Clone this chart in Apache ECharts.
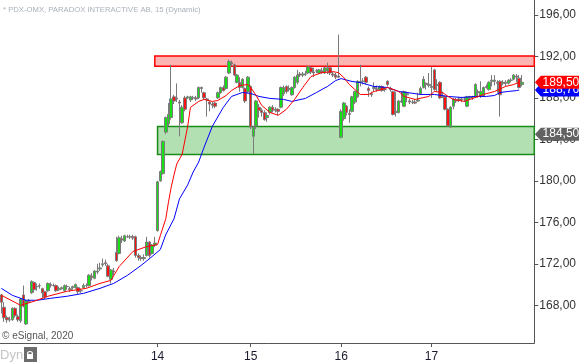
<!DOCTYPE html>
<html><head><meta charset="utf-8">
<script src="https://cdn.jsdelivr.net/npm/echarts@6/dist/echarts.min.js"></script>
<style>html,body{margin:0;padding:0;background:#fff}#c{width:579px;height:363px}</style>
</head><body><div id="c"></div>
<script>
const chartTitle = '* PDX-OMX, PARADOX INTERACTIVE AB, 15 (Dynamic)';
const dayLabels = ['14', '15', '16', '17'];
const dayStart = [57, 91, 124, 157];
const barCount = 195;
const yTicks = [168, 172, 176, 180, 184, 188, 192, 196];

const opens = [169.0,167.8,166.8,166.6,166.6,167.7,166.9,166.5,169.0,166.2,168.4,169.2,170.2,169.8,169.9,169.6,169.3,169.4,170.0,169.9,
169.9,169.5,169.6,169.4,169.8,169.6,169.7,169.7,169.7,169.4,169.7,169.9,169.9,170.8,170.6,171.2,171.5,171.9,172.1,171.8,
170.5,171.3,173.1,173.0,174.4,174.2,174.6,174.6,174.6,174.6,172.8,172.6,172.5,172.8,174.1,173.0,173.8,175.2,180.0,180.7,
184.7,185.5,186.1,188.1,188.0,187.6,185.6,188.0,188.0,187.8,188.0,188.0,188.0,189.0,188.5,187.9,187.6,187.4,187.5,188.0,
188.5,189.0,188.9,190.4,191.4,191.2,189.5,189.5,189.0,188.9,188.6,189.1,184.3,185.3,187.1,186.8,186.6,186.1,186.6,187.1,
186.8,186.9,187.1,188.4,189.1,188.8,188.3,189.0,189.5,190.3,190.2,190.3,190.4,190.9,190.5,190.6,190.4,190.6,190.4,190.6,
190.9,190.3,190.2,190.1,184.2,186.0,187.2,186.5,186.7,187.6,188.1,189.5,189.6,190.0,188.9,188.4,188.9,188.9,188.8,189.1,
188.8,189.6,188.9,188.6,186.6,186.6,187.6,187.2,188.3,187.7,187.6,187.6,187.7,188.4,189.0,189.4,189.2,189.0,190.7,189.2,
189.5,188.2,188.1,186.9,185.2,187.2,187.8,187.9,187.8,187.9,187.2,188.0,188.0,188.1,188.6,188.2,188.2,189.0,188.8,189.6,
189.6,189.5,189.6,189.4,189.5,189.4,189.7,189.8,190.1,189.9,189.3];
const closes = [168.3,166.8,166.6,166.6,167.7,167.0,166.6,168.6,167.9,168.4,168.4,170.3,169.5,169.8,169.9,169.2,168.8,170.1,169.9,169.9,
169.4,169.6,169.7,169.9,169.8,169.5,169.8,170.0,169.3,169.4,169.9,169.9,170.9,170.7,171.3,171.3,171.6,172.0,172.0,170.8,
171.4,171.2,172.3,174.5,174.3,174.7,174.6,174.6,174.5,172.8,172.6,172.5,172.6,174.1,172.8,173.8,174.0,179.9,180.9,183.8,
186.1,186.4,187.9,187.7,187.9,187.5,187.1,186.9,188.1,188.1,188.0,187.9,189.0,188.9,188.0,187.8,187.4,187.3,187.2,188.5,
189.0,188.7,190.0,191.5,191.3,190.2,190.2,189.0,189.8,187.7,190.0,185.2,185.2,187.7,186.8,186.6,185.9,186.3,187.1,186.8,
186.9,186.7,189.0,189.0,188.6,188.9,189.0,190.0,190.2,190.2,190.3,190.3,191.0,190.5,190.4,190.6,190.7,190.5,190.9,190.9,
190.4,190.2,190.0,190.0,186.7,187.5,186.6,186.4,188.1,188.6,189.6,189.6,189.6,189.5,188.7,188.3,189.0,188.8,189.1,188.7,
188.8,189.3,188.8,186.4,186.7,187.7,187.7,188.6,188.4,187.6,187.6,187.5,187.8,188.9,189.8,189.3,189.3,189.1,188.8,189.3,
188.0,188.1,186.9,185.3,187.1,187.9,187.7,187.8,187.9,187.9,188.1,188.1,188.0,189.3,188.5,188.6,189.0,189.1,189.5,189.7,
189.7,189.4,188.3,189.5,189.4,189.7,189.7,190.2,190.0,189.0,189.5];
const lows = [167.2,166.4,166.3,166.4,166.5,166.8,166.4,166.3,167.8,166.1,168.2,169.1,169.2,169.4,169.6,168.7,168.6,169.3,169.7,169.8,
169.3,169.4,169.5,169.3,169.5,169.3,169.5,169.6,169.1,169.2,169.6,169.7,169.8,170.4,170.5,171.0,171.3,171.7,171.8,170.7,
170.1,170.9,172.2,172.9,174.0,174.1,174.5,174.4,174.3,172.6,172.3,172.3,172.3,172.7,172.6,172.9,173.6,175.1,179.9,180.6,
184.5,185.3,185.9,187.4,187.6,184.3,185.5,186.7,187.9,187.6,187.8,187.7,187.9,188.5,187.8,186.2,186.7,187.0,187.0,187.9,
188.4,188.6,188.8,190.3,191.1,190.1,189.4,188.6,188.9,187.5,188.5,185.0,182.6,185.0,186.1,186.2,185.8,185.7,186.4,186.6,
186.6,186.3,187.0,188.2,188.4,188.6,188.2,188.9,189.3,190.0,190.0,190.1,190.3,190.3,190.0,190.4,190.3,190.3,190.3,190.3,
190.2,190.0,189.8,189.9,184.1,185.8,186.3,185.6,186.6,187.4,188.0,189.1,189.3,189.3,188.1,188.1,188.6,188.6,188.7,188.6,
188.6,189.1,188.6,186.3,186.2,186.5,187.5,187.1,187.6,187.4,187.4,187.4,187.6,188.3,188.9,188.8,189.0,188.0,188.7,188.6,
187.9,188.0,186.8,185.2,185.1,186.9,187.5,187.6,187.6,187.6,187.1,187.8,187.8,188.0,188.0,188.0,188.1,188.9,188.7,189.1,
189.2,188.5,186.2,189.2,189.1,189.3,189.5,189.7,189.5,188.9,189.1];
const highs = [169.1,168.3,167.0,166.9,167.8,167.8,167.1,168.7,169.9,168.5,168.6,170.4,170.3,170.1,170.1,169.7,169.4,170.2,170.2,170.1,
170.0,169.8,169.8,170.0,170.0,169.8,169.9,170.1,169.8,169.6,170.1,170.1,171.0,171.1,171.4,172.0,172.1,172.5,172.4,172.0,
171.5,171.6,174.6,174.7,174.7,174.8,174.8,174.8,174.8,174.7,173.0,172.8,172.9,174.6,174.2,173.9,174.6,180.0,181.0,183.9,
186.2,187.5,191.2,188.3,189.4,187.8,187.3,188.2,188.2,188.2,188.2,188.2,189.1,189.1,188.6,188.0,187.7,187.6,187.6,188.6,
189.1,189.2,190.1,191.7,191.6,191.3,190.3,190.0,189.9,189.0,190.1,189.2,185.3,187.8,187.4,187.0,186.8,186.6,187.2,187.3,
187.1,187.0,189.1,189.2,189.2,189.2,189.1,190.1,190.7,190.5,190.5,190.6,191.1,191.0,190.9,190.8,190.8,190.9,191.0,191.4,
191.0,190.5,190.4,194.1,186.9,187.6,187.3,186.9,188.2,188.7,189.7,191.2,189.9,190.1,189.1,188.6,189.5,189.2,189.2,189.2,
189.0,189.7,189.1,188.7,188.6,187.8,188.6,188.7,188.6,187.9,187.8,187.9,188.5,189.1,190.1,189.5,190.4,191.0,190.8,189.8,
189.6,188.6,188.2,187.0,187.2,188.0,188.0,188.1,188.1,188.1,188.2,188.2,188.2,189.4,188.8,189.6,189.1,189.3,189.6,190.2,
190.2,189.7,189.7,189.7,189.7,189.8,189.9,190.3,190.3,190.2,190.2];

const redMaIdx = [0,7,12,17,24,31,36,40,43,48,53,57,58,60,61,62,63,64,66,68,69,72,74,77,79,82,84,87,90,91,93,95,98,101,104,107,110,113,117,121,123,125,127,129,131,134,136,139,141,145,147,151,156,158,161,163,165,169,173,176,180,184,187,189];
const redMaVal = [168.96,168.00,168.39,168.87,169.35,169.63,170.11,170.40,171.74,173.18,173.66,173.85,174.71,176.34,177.97,179.41,180.56,181.62,182.58,185.26,187.08,187.66,187.85,187.66,187.75,188.23,188.71,189.19,189.29,189.00,188.23,187.28,186.60,186.32,186.89,187.85,189.00,190.06,190.44,190.53,190.44,189.96,189.29,188.81,188.33,188.33,188.62,188.81,189.00,188.62,188.14,187.85,188.14,188.62,188.52,188.14,187.85,187.66,188.04,188.33,188.62,189.10,189.29,189.50];
const blueMaIdx = [0,4,9,13,18,24,30,36,41,46,51,55,58,60,63,65,68,70,72,74,77,81,84,88,91,94,98,103,106,111,115,119,122,124,128,131,136,141,145,148,153,158,163,168,173,177,180,182,185,188,189];
const blueMaVal = [169.63,168.96,168.48,168.48,168.67,168.87,169.15,169.63,170.11,170.88,171.84,172.70,173.37,174.81,176.34,178.26,179.61,180.85,181.81,183.25,185.26,187.08,188.14,188.52,188.43,188.14,187.95,187.85,187.66,187.95,188.52,189.10,189.67,189.86,189.58,189.48,189.10,189.00,188.62,188.52,188.33,188.33,188.14,188.04,188.14,188.14,188.23,188.52,188.62,188.70,188.76];

const resistZone = [191.05, 192.05];
const supportZone = [182.55, 185.25];
const resistStart = 56, supportStart = 57;
const redTag = 189.50, blueTag = 188.76, levelTag = 184.50;

const fmt = v => v.toFixed(2).replace('.', ',');
const categories = [];
for (let i = 0; i < barCount; i++) {
  const k = dayStart.indexOf(i);
  categories.push(k >= 0 ? dayLabels[k] : '');
}
const candles = opens.map((o, i) => [o, closes[i], lows[i], highs[i]]);
const redMa = redMaIdx.map((x, i) => [x, redMaVal[i]]);
const blueMa = blueMaIdx.map((x, i) => [x, blueMaVal[i]]);
const lastIdx = barCount - 1;
const tagPath = 'path://M0,6 L6,0 L50,0 L50,12 L6,12 Z';
function tag(value, color, z) {
  return {
    silent: true, z: z, animation: false,
    data: [{ coord: [lastIdx, value], value: value }],
    symbol: tagPath, symbolSize: [50, 13], symbolKeepAspect: false,
    symbolOffset: [27, 0],
    itemStyle: { color: color },
    label: { show: true, position: 'inside', color: '#fff', fontSize: 12,
      fontFamily: 'Liberation Sans, Arial, sans-serif', offset: [1, 0],
      formatter: p => fmt(p.value) }
  };
}

const chart = echarts.init(document.getElementById('c'), null, { renderer: 'canvas' });
chart.setOption({
  animation: false,
  backgroundColor: '#fff',
  grid: { left: 0, right: 44, top: 0, bottom: 18 },
  xAxis: {
    type: 'category', data: categories, boundaryGap: true,
    axisLine: { show: true, lineStyle: { color: '#555', width: 1 } },
    axisTick: { show: true, alignWithLabel: true, length: 4, lineStyle: { color: '#555' },
      interval: (i, v) => v !== '' },
    axisLabel: { show: true, interval: (i, v) => v !== '', margin: 8, color: '#1a1a2e',
      fontSize: 12, fontFamily: 'Liberation Sans, Arial, sans-serif' },
    splitLine: { show: false }
  },
  yAxis: {
    type: 'value', position: 'right', min: 164.36, max: 197.44, scale: true,
    axisLine: { show: true, lineStyle: { color: '#555', width: 1 } },
    axisTick: { show: true, length: 4, lineStyle: { color: '#555' }, customValues: yTicks },
    axisLabel: { show: true, margin: 5, color: '#333', fontSize: 12,
      fontFamily: 'Liberation Sans, Arial, sans-serif', customValues: yTicks,
      formatter: v => fmt(v) },
    splitLine: { show: false }
  },
  series: [
    {
      type: 'candlestick', data: candles, barWidth: 3, z: 2,
      itemStyle: { color: '#14e014', color0: '#ff1010', borderColor: '#7a7a7a',
        borderColor0: '#7a7a7a', borderColorDoji: '#7a7a7a', borderWidth: 1 },
      markArea: {
        silent: true,
        data: [
          [{ xAxis: resistStart, yAxis: resistZone[1], itemStyle: { color: '#ffb4b4', borderColor: '#ff0000', borderWidth: 1.5 } },
           { yAxis: resistZone[0] }],
          [{ xAxis: supportStart, yAxis: supportZone[1], itemStyle: { color: '#b3e0b3', borderColor: '#1a8a1a', borderWidth: 1.5 } },
           { yAxis: supportZone[0] }]
        ]
      },
      markPoint: tag(levelTag, '#626262', 5)
    },
    {
      type: 'line', data: blueMa, symbol: 'none', z: 3,
      lineStyle: { color: '#0000ff', width: 1 }, itemStyle: { color: '#0000ff' },
      markPoint: tag(blueTag, '#0000ff', 6)
    },
    {
      type: 'line', data: redMa, symbol: 'none', z: 4,
      lineStyle: { color: '#ff0000', width: 1 }, itemStyle: { color: '#ff0000' },
      markPoint: tag(redTag, '#ff0000', 7)
    }
  ],
  graphic: [
    { type: 'text', left: 3, top: 6, style: { text: chartTitle, fill: '#aab0bc', fontSize: 7.7,
      fontFamily: 'Liberation Sans, Arial, sans-serif' } },
    { type: 'text', left: 2, top: 331, style: { text: '© eSignal, 2020', fill: '#555', fontSize: 10,
      fontFamily: 'Liberation Sans, Arial, sans-serif' } },
    { type: 'text', left: 0, top: 349, style: { text: 'Dyn', fill: '#c4c4c4', fontSize: 13,
      fontFamily: 'Liberation Sans, Arial, sans-serif' } },
    { type: 'rect', shape: { x: 24, y: 347, width: 13, height: 15 }, style: { fill: '#6c6c6c' } },
    { type: 'rect', shape: { x: 27, y: 354, width: 6, height: 5 }, style: { fill: '#fff' } },
    { type: 'arc', shape: { cx: 30, cy: 354, r: 2.5, startAngle: Math.PI, endAngle: 0 },
      style: { stroke: '#fff', lineWidth: 1.2, fill: null } }
  ]
});
</script>
</body></html>
